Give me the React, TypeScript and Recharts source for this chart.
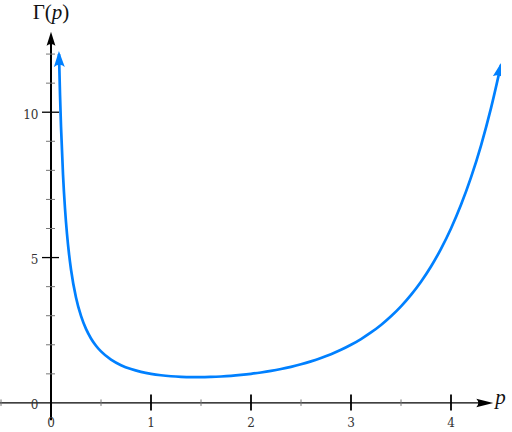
import React from 'react';
import { ComposedChart, Line, XAxis, YAxis, ReferenceLine, ReferenceDot } from 'recharts';

// Curve samples (Gamma function)
const pValues = [
  0.08, 0.09, 0.1, 0.12, 0.14, 0.16, 0.18, 0.2, 0.25, 0.3, 0.35, 0.4, 0.45, 0.5,
  0.6, 0.7, 0.8, 0.9, 1.0, 1.1, 1.2, 1.3, 1.4, 1.5, 1.6, 1.7, 1.8, 1.9, 2.0,
  2.1, 2.2, 2.3, 2.4, 2.5, 2.6, 2.7, 2.8, 2.9, 3.0, 3.1, 3.2, 3.3, 3.4, 3.5,
  3.6, 3.7, 3.8, 3.9, 4.0, 4.1, 4.2, 4.3, 4.4, 4.5,
];
const gammaValues = [
  12.0, 10.62, 9.514, 7.863, 6.689, 5.811, 5.132, 4.591, 3.626, 2.992, 2.546, 2.218, 1.968, 1.772,
  1.489, 1.298, 1.164, 1.069, 1.0, 0.951, 0.918, 0.897, 0.887, 0.886, 0.894, 0.909, 0.931, 0.962, 1.0,
  1.047, 1.102, 1.167, 1.242, 1.329, 1.43, 1.545, 1.676, 1.827, 2.0, 2.198, 2.424, 2.683, 2.981, 3.323,
  3.717, 4.171, 4.694, 5.299, 6.0, 6.813, 7.757, 8.855, 10.14, 11.63,
];

const xMajorTicks = [1, 2, 3, 4];
const xMinorTicks = [-0.5, 0.5, 1.5, 2.5, 3.5];
const xTickLabels = ['0', '1', '2', '3', '4'];
const yMajorTicks = [5, 10];
const yMinorTicks = [1, 2, 3, 4, 6, 7, 8, 9, 11, 12];
const yTickLabels = ['0', '5', '10'];

const xAxisLabel = 'p';
const yAxisLabelMain = 'Γ(';
const yAxisLabelVar = 'p';
const yAxisLabelEnd = ')';

const data = pValues.map((p, i) => ({ p, g: gammaValues[i] }));

const BLUE = '#0080ff';
const FONT = '"Liberation Serif", "DejaVu Serif", serif';
const TICK_FONT = '"DejaVu Serif", serif';
const TICK_GRAY = '#777';

export default function App() {
  return (
    <div style={{ position: 'absolute', left: 0, top: 0, width: 512, height: 432 }}>
      <ComposedChart
        width={512}
        height={432}
        data={data}
        margin={{ top: 25, right: 11, bottom: 0, left: 1 }}
      >
        <defs>
          <marker
            id="curveArrow"
            markerUnits="userSpaceOnUse"
            markerWidth={20}
            markerHeight={14}
            viewBox="0 0 20 14"
            refX={13}
            refY={7}
            orient="auto-start-reverse"
          >
            <path d="M16,7 L0,1.5 Q4.5,7 0,12.5 Z" fill={BLUE} />
          </marker>
        </defs>
        <XAxis type="number" dataKey="p" domain={[-0.5, 4.5]} hide allowDataOverflow />
        <YAxis type="number" domain={[-1, 13]} hide allowDataOverflow />

        {/* axis lines */}
        <ReferenceLine
          segment={[{ x: -0.52, y: 0 }, { x: 4.3, y: 0 }]}
          stroke="#000"
          strokeWidth={1.2}
          ifOverflow="visible"
        />
        <ReferenceLine
          segment={[{ x: 0, y: -0.6 }, { x: 0, y: 12.4 }]}
          stroke="#000"
          strokeWidth={2}
          ifOverflow="visible"
        />

        {/* x minor ticks */}
        {xMinorTicks.map((v) => (
          <ReferenceDot
            key={'xm' + v}
            x={v}
            y={0}
            r={0}
            ifOverflow="visible"
            shape={(p: any) => (
              <line x1={p.cx} x2={p.cx} y1={p.cy - 3.5} y2={p.cy + 3} stroke={TICK_GRAY} strokeWidth={1} />
            )}
          />
        ))}
        {/* x major ticks */}
        {xMajorTicks.map((v) => (
          <ReferenceDot
            key={'xM' + v}
            x={v}
            y={0}
            r={0}
            ifOverflow="visible"
            shape={(p: any) => (
              <line x1={p.cx} x2={p.cx} y1={p.cy - 8.5} y2={p.cy + 7.5} stroke="#000" strokeWidth={1.8} />
            )}
          />
        ))}
        {/* x tick labels */}
        {xTickLabels.map((t) => (
          <ReferenceDot
            key={'xl' + t}
            x={Number(t)}
            y={0}
            r={0}
            ifOverflow="visible"
            shape={(p: any) => (
              <text x={p.cx} y={p.cy + 24} textAnchor="middle" fontFamily={TICK_FONT} fontSize={12} fill="#333">
                {t}
              </text>
            )}
          />
        ))}

        {/* y minor ticks */}
        {yMinorTicks.map((v) => (
          <ReferenceDot
            key={'ym' + v}
            x={0}
            y={v}
            r={0}
            ifOverflow="visible"
            shape={(p: any) => (
              <line x1={p.cx - 5} x2={p.cx + 4} y1={p.cy} y2={p.cy} stroke={TICK_GRAY} strokeWidth={1} />
            )}
          />
        ))}
        {/* y major ticks */}
        {yMajorTicks.map((v) => (
          <ReferenceDot
            key={'yM' + v}
            x={0}
            y={v}
            r={0}
            ifOverflow="visible"
            shape={(p: any) => (
              <line x1={p.cx - 9} x2={p.cx + 8} y1={p.cy} y2={p.cy} stroke="#000" strokeWidth={1.3} />
            )}
          />
        ))}
        {/* y tick labels */}
        {yTickLabels.map((t) => (
          <ReferenceDot
            key={'yl' + t}
            x={0}
            y={Number(t)}
            r={0}
            ifOverflow="visible"
            shape={(p: any) => (
              <text x={p.cx - 12.5} y={p.cy + 6.3} textAnchor="end" fontFamily={TICK_FONT} fontSize={12} fill="#333">
                {t}
              </text>
            )}
          />
        ))}

        {/* x axis arrow + label */}
        <ReferenceDot
          x={4.423}
          y={0}
          r={0}
          ifOverflow="visible"
          shape={(p: any) => (
            <g>
              <path
                d={`M${p.cx},${p.cy} L${p.cx - 17},${p.cy - 4.2} Q${p.cx - 13},${p.cy} ${p.cx - 17},${p.cy + 4.2} Z`}
                fill="#000"
              />
              <text x={p.cx + 2} y={p.cy + 1.5} fontFamily={FONT} fontSize={21} fontStyle="italic" fill="#111">
                {xAxisLabel}
              </text>
            </g>
          )}
        />
        {/* y axis arrow + label */}
        <ReferenceDot
          x={0}
          y={12.77}
          r={0}
          ifOverflow="visible"
          shape={(p: any) => (
            <g>
              <path
                d={`M${p.cx},${p.cy} L${p.cx + 4.4},${p.cy + 14} Q${p.cx},${p.cy + 10.5} ${p.cx - 4.4},${p.cy + 14} Z`}
                fill="#000"
              />
              <text x={p.cx} y={p.cy - 12.5} textAnchor="middle" fontFamily={FONT} fontSize={21} fill="#111">
                {yAxisLabelMain}
                <tspan fontStyle="italic">{yAxisLabelVar}</tspan>
                {yAxisLabelEnd}
              </text>
            </g>
          )}
        />

        <Line
          type="monotone"
          dataKey="g"
          stroke={BLUE}
          strokeWidth={2.7}
          dot={false}
          activeDot={false}
          isAnimationActive={false}
          markerStart="url(#curveArrow)"
          markerEnd="url(#curveArrow)"
        />
      </ComposedChart>
    </div>
  );
}
